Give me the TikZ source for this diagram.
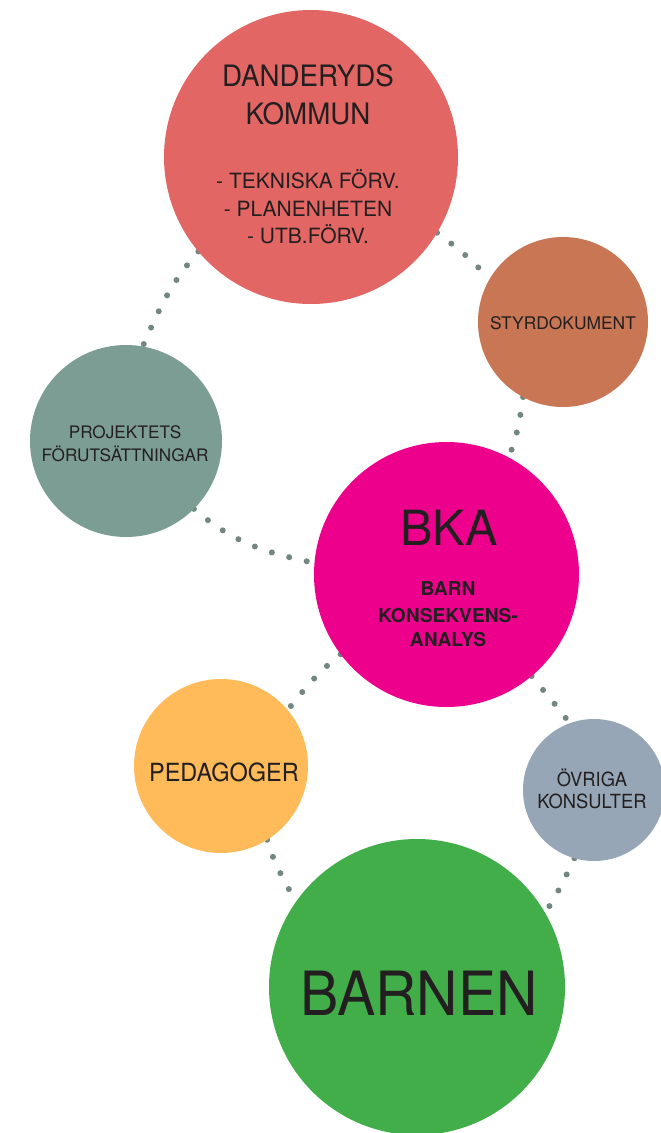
\documentclass[tikz,border=0pt]{standalone}
\usepackage{fontspec}
\setmainfont{TeX Gyre Heros}
\newfontfamily\condfont[FakeStretch=0.94]{TeX Gyre Heros}
\usetikzlibrary{backgrounds}
\definecolor{cdk}{RGB}{226,103,100}
\definecolor{csd}{RGB}{201,118,84}
\definecolor{cpf}{RGB}{124,157,147}
\definecolor{cbka}{RGB}{236,0,140}
\definecolor{cped}{RGB}{255,186,90}
\definecolor{cov}{RGB}{150,166,182}
\definecolor{cbn}{RGB}{65,174,74}
\definecolor{cdot}{RGB}{113,135,127}
\definecolor{ink}{RGB}{35,31,32}
\begin{document}
\begin{tikzpicture}[x=1pt,y=1pt,
  bub/.style={circle,inner sep=0pt,outer sep=0pt,minimum size=#1},
  txt/.style={anchor=base,inner sep=0pt,outer sep=0pt,text=ink},
  dotline/.style={draw=cdot,line width=6pt,line cap=round,dash pattern=on 0pt off 18pt}]
\useasboundingbox (0,0) rectangle (661,-1133);
% circles
\node[bub=294pt,fill=cdk]  (dk)  at (311,-157) {};
\node[bub=170pt,fill=csd]  (sd)  at (563,-322) {};
\node[bub=192pt,fill=cpf]  (pf)  at (126,-441) {};
\node[bub=265pt,fill=cbka] (bka) at (446.5,-574.5) {};
\node[bub=174pt,fill=cped] (ped) at (221,-766) {};
\node[bub=142pt,fill=cov]  (ov)  at (594,-790) {};
\node[bub=296pt,fill=cbn]  (bn)  at (417,-987) {};
% texts
\node[txt,font=\condfont\fontsize{29.5}{29.5}\selectfont] (t1a) at (308,-86.7) {DANDERYDS};
\node[txt,font=\condfont\fontsize{29.5}{29.5}\selectfont] (t1b) at (308,-124) {KOMMUN};
\node[txt,font=\fontsize{21}{21}\selectfont] (t1c) at (308,-188.3) {- TEKNISKA FÖRV.};
\node[txt,font=\fontsize{21}{21}\selectfont] (t1d) at (308,-216.7) {- PLANENHETEN};
\node[txt,font=\fontsize{21}{21}\selectfont] (t1e) at (308,-243.3) {- UTB.FÖRV.};
\node[txt,font=\fontsize{17.4}{17.4}\selectfont] (t2) at (563,-329) {STYRDOKUMENT};
\node[txt,font=\fontsize{17.2}{17.2}\selectfont] (t3a) at (125,-438.3) {PROJEKTETS};
\node[txt,font=\fontsize{17.2}{17.2}\selectfont] (t3b) at (125,-461.7) {FÖRUTSÄTTNINGAR};
\node[txt,font=\fontsize{48.5}{48.5}\selectfont] (t4a) at (449,-545) {BKA};
\node[txt,font=\bfseries\fontsize{19.2}{19.2}\selectfont] (t4b) at (448,-595.7) {BARN};
\node[txt,font=\bfseries\fontsize{19.2}{19.2}\selectfont] (t4c) at (448,-622.3) {KONSEKVENS-};
\node[txt,font=\bfseries\fontsize{19.2}{19.2}\selectfont] (t4d) at (448,-646.7) {ANALYS};
\node[txt,font=\condfont\fontsize{25}{25}\selectfont] (t5) at (224,-781) {PEDAGOGER};
\node[txt,font=\condfont\fontsize{19.5}{19.5}\selectfont] (t6a) at (592,-786) {ÖVRIGA};
\node[txt,font=\condfont\fontsize{19.5}{19.5}\selectfont] (t6b) at (592,-808.3) {KONSULTER};
\node[txt,font=\condfont\fontsize{61}{61}\selectfont] (t7) at (419,-1015.7) {BARNEN};
% dotted connectors
\begin{pgfonlayer}{background}
\fill[white] (0,0) rectangle (661,-1133);
\draw[dotline] (dk.220.6) to[out=229,in=66] (pf.80);
\draw[dotline] (dk.329) to[out=323,in=131] (sd.150.7);
\draw[dotline] (sd.242.2) to[out=261.5,in=68.7] (bka.62.4);
\draw[dotline] (pf.315) to[out=319.4,in=168.1] (bka.175.7);
\draw[dotline] (bka.217.3) to[out=218.7,in=51.3] (ped.40.6);
\draw[dotline] (bka.310.5) to[out=308.7,in=126.3] (ov.110.4);
\draw[dotline] (ped.302.2) to[out=286.3,in=117.5] (bn.145.6);
\draw[dotline] (ov.254.8) to[out=244.8,in=58] (bn.30);
\end{pgfonlayer}
\end{tikzpicture}
\end{document}
